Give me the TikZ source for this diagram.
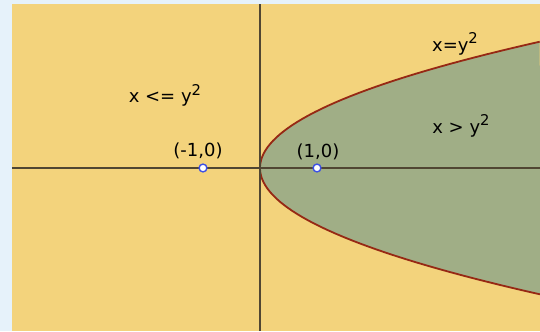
\documentclass[tikz,border=0pt]{standalone}
\usepackage{fontspec}
\setmainfont{DejaVu Sans}
\usetikzlibrary{positioning}
\definecolor{paleblue}{RGB}{230,242,250}
\definecolor{sand}{RGB}{243,211,124}
\definecolor{sage}{RGB}{160,174,134}
\definecolor{rust}{RGB}{150,40,20}
\definecolor{axisgray}{RGB}{80,70,50}
\definecolor{ptblue}{RGB}{60,80,230}
\newcommand{\sqr}{\raisebox{0.75ex}{\fontsize{7.4}{8}\selectfont 2}}

\begin{document}
\begin{tikzpicture}[x=28.5pt,y=28.5pt,font=\fontsize{9}{11}\selectfont]
  \tikzset{
    axis/.style={axisgray,line width=0.75pt},
    curve/.style={rust,line width=0.9pt},
    pt/.style={circle,draw=ptblue,fill=white,line width=0.7pt,inner sep=0pt,minimum size=3.9pt},
    lbl/.style={text=black,inner sep=1pt}
  }
  \useasboundingbox (-4.561,-2.860) rectangle (4.912,2.947);
  \fill[paleblue] (-4.561,-2.860) rectangle (4.912,2.947);
  \fill[sand] (-4.351,-2.860) rectangle (4.912,2.877);

  % region x > y^2
  \fill[sage,domain=-2.216:2.216,samples=80] plot ({\x*\x},\x) -- cycle;
  \draw[curve,domain=-2.216:2.216,samples=80] plot ({\x*\x},\x);

  % axes
  \draw[axis] (-4.351,0)--(4.912,0);
  \draw[axis] (0,-2.860)--(0,2.877);

  \node[pt] (pm) at (-1,0) {};
  \node[pt] (pp) at (1,0) {};
  \node[lbl] (lm) at (-1.088,0.298) {(-1,0)};
  \node[lbl] (lp) at (1.018,0.281) {(1,0)};
  \node[lbl] (outside) at (-1.667,1.27) {x <= y\sqr};
  \node[lbl] (edge) at (3.421,2.18) {x=y\sqr};
  \node[lbl] (inside) at (3.526,0.74) {x > y\sqr};
\end{tikzpicture}
\end{document}
